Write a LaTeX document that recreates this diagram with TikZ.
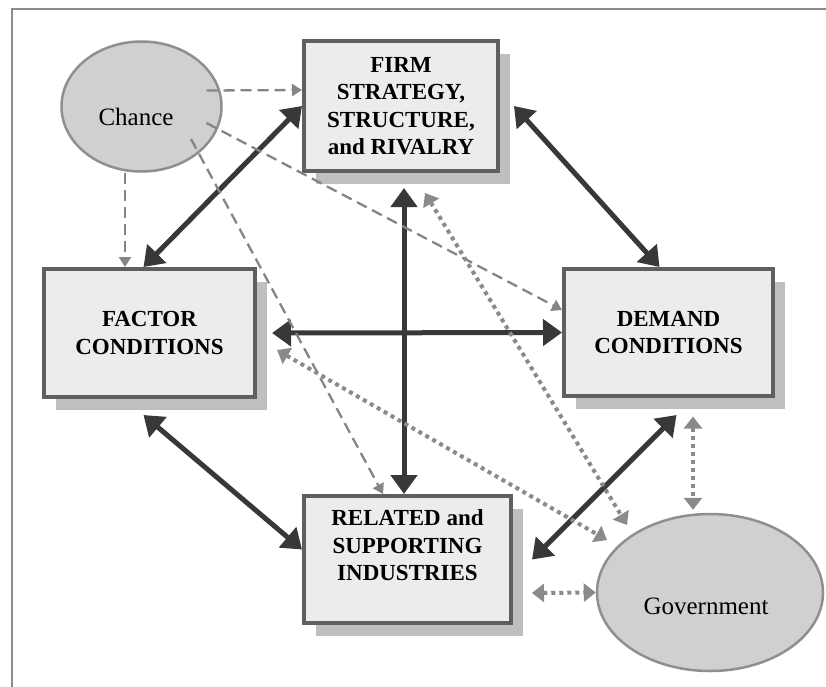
\documentclass[tikz,border=0pt]{standalone}
\usepackage{fontspec}
\setmainfont{Liberation Serif}
\usetikzlibrary{arrows.meta,shadows,shapes.geometric}
\definecolor{boxfill}{HTML}{ECECEC}
\definecolor{boxline}{HTML}{5F5F5F}
\definecolor{boxshade}{HTML}{BFBFBF}
\definecolor{ovalfill}{HTML}{D0D0D0}
\definecolor{ovalline}{HTML}{8F8F8F}
\definecolor{darklink}{HTML}{383838}
\definecolor{dashlink}{HTML}{858585}
\definecolor{dotlink}{HTML}{8A8A8A}
\definecolor{framegray}{HTML}{8C8C8C}

\begin{document}
\begin{tikzpicture}[x=1pt,y=-1pt,
  force/.style={draw=boxline,line width=4pt,fill=boxfill,
    drop shadow={shadow xshift=12pt,shadow yshift=-13pt,fill=boxshade,opacity=1},
    align=center,font=\bfseries\fontsize{23}{27.5}\selectfont},
  outside/.style={ellipse,draw=ovalline,line width=2.5pt,fill=ovalfill,inner sep=0pt},
  outsidetext/.style={font=\fontsize{25}{30}\selectfont},
  link/.style={draw=darklink,line width=5pt,
    {Triangle[length=19pt,width=26pt]}-{Triangle[length=19pt,width=26pt]}},
  chanceflow/.style={draw=dashlink,line width=2.3pt,dash pattern=on 11pt off 6pt,
    -{Triangle[length=10pt,width=12pt]}},
  govflow/.style={draw=dotlink,line width=4pt,dash pattern=on 4pt off 4pt,
    {Triangle[length=12pt,width=18pt]}-{Triangle[length=12pt,width=18pt]}}]
  \clip (0,0) rectangle (826,686);
  \draw[framegray,line width=1.5pt] (12,700) -- (12,9) -- (840,9);
  % the four corners of the diamond
  \node[force,minimum width=194pt,minimum height=130pt] (firm) at (401,106)
    {FIRM\\STRATEGY,\\STRUCTURE,\\and RIVALRY};
  \node[force,minimum width=211pt,minimum height=128pt] (factor) at (149.5,333)
    {FACTOR\\CONDITIONS};
  \node[force,minimum width=209pt,minimum height=127pt] (demand) at (668.5,332.5)
    {DEMAND\\CONDITIONS};
  \node[force,minimum width=207pt,minimum height=127pt] (rel) at (407.5,559.5) {};
  \node[align=center,font=\bfseries\fontsize{23}{27.5}\selectfont] (reltext)
    at ([yshift=14pt]rel.center) {RELATED and\\SUPPORTING\\INDUSTRIES};
  % outside influences
  \node[outside,minimum width=160pt,minimum height=130pt] (chance) at (141.5,106.5) {};
  \node[outsidetext] (chancetext) at (136,117) {Chance};
  \node[outside,minimum width=226pt,minimum height=157pt] (gov) at (710,592.5) {};
  \node[outsidetext] (govtext) at (706,606) {Government};
  % links between the corners
  \draw[link] (firm.west) -- ([xshift=-6pt]factor.north);
  \draw[link] ([xshift=14pt]firm.east) -- ([xshift=-9pt]demand.north);
  \draw[link] ([xshift=15pt]factor.east) -- (demand.west);
  \draw[link] ([xshift=3pt,yshift=-15pt]firm.south) -- ([xshift=-3.5pt]rel.north);
  \draw[link] ([xshift=-6pt,yshift=-16pt]factor.south) -- ([yshift=10pt]rel.west);
  \draw[link] ([xshift=8pt,yshift=-17pt]demand.south) -- ([xshift=19pt]rel.east);
  % chance
  \draw[chanceflow] ([xshift=65pt,yshift=16pt]chance.center) -- ([yshift=16pt]firm.west);
  \draw[chanceflow] ([xshift=-16.5pt]chance.south) -- ([xshift=-24.5pt]factor.north);
  \draw[chanceflow] ([xshift=65pt,yshift=-16.5pt]chance.center) -- ([yshift=22.5pt]demand.west);
  \draw[chanceflow] ([xshift=49.5pt,yshift=-32.5pt]chance.center) -- ([xshift=-24.5pt]rel.north);
  % government
  \draw[govflow] ([xshift=24pt,yshift=-20pt]firm.south) -- ([xshift=-83pt,yshift=67.5pt]gov.center);
  \draw[govflow] ([xshift=20pt,yshift=-17pt]factor.east) -- ([xshift=-103pt,yshift=52.5pt]gov.center);
  \draw[govflow] ([xshift=24.5pt,yshift=-18.5pt]demand.south) -- ([xshift=-17pt,yshift=3pt]gov.north);
  \draw[govflow] ([xshift=19pt,yshift=-33.5pt]rel.east) -- (gov.west);
\end{tikzpicture}
\end{document}
